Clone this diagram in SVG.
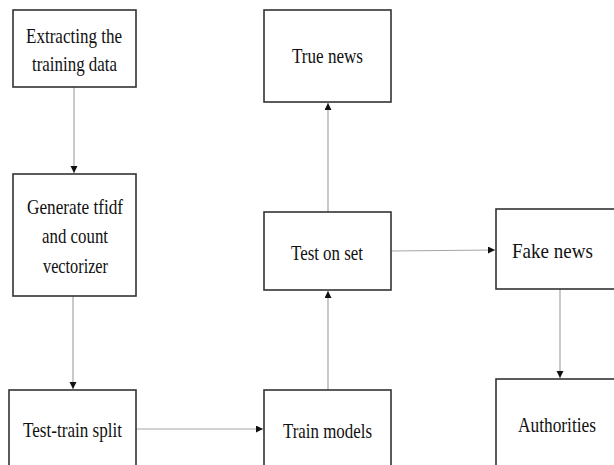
<svg xmlns="http://www.w3.org/2000/svg" width="614" height="465" viewBox="0 0 614 465">
<style>
.box{fill:#fff;stroke:#333;stroke-width:1.6}
.lbl{font-family:"Liberation Serif","Times New Roman",serif;font-size:22px;fill:#111;text-anchor:middle}
.conn{stroke:#a6a6a6;stroke-width:1.2;fill:none}
</style>
<defs>
<marker id="ah" markerUnits="userSpaceOnUse" markerWidth="8" markerHeight="8" refX="7" refY="3.5" orient="auto">
<path d="M0,0 L7,3.5 L0,7 Z" fill="#111"/>
</marker>
</defs>
<rect width="614" height="465" fill="#fff"/>
<g id="connectors">
<line class="conn" x1="74" y1="87" x2="74" y2="173" marker-end="url(#ah)"/>
<line class="conn" x1="73" y1="296" x2="73" y2="389" marker-end="url(#ah)"/>
<line class="conn" x1="136" y1="429" x2="263" y2="429" marker-end="url(#ah)"/>
<line class="conn" x1="328" y1="390" x2="328" y2="291" marker-end="url(#ah)"/>
<line class="conn" x1="328" y1="212" x2="328" y2="103" marker-end="url(#ah)"/>
<line class="conn" x1="391" y1="251" x2="495" y2="250" marker-end="url(#ah)"/>
<line class="conn" x1="560" y1="289" x2="560" y2="378" marker-end="url(#ah)"/>
</g>
<g id="extract">
<rect class="box" x="13" y="10" width="123" height="77"/>
<text class="lbl" x="74" y="43" textLength="96" lengthAdjust="spacingAndGlyphs">Extracting the</text>
<text class="lbl" x="74.5" y="71" textLength="85" lengthAdjust="spacingAndGlyphs">training data</text>
</g>
<g id="generate">
<rect class="box" x="13" y="174" width="123" height="122"/>
<text class="lbl" x="75" y="214" textLength="96" lengthAdjust="spacingAndGlyphs">Generate tfidf</text>
<text class="lbl" x="75" y="243" textLength="66" lengthAdjust="spacingAndGlyphs">and count</text>
<text class="lbl" x="75.5" y="273" textLength="65" lengthAdjust="spacingAndGlyphs">vectorizer</text>
</g>
<g id="split">
<rect class="box" x="9" y="390" width="127" height="90"/>
<text class="lbl" x="72.5" y="437" textLength="99" lengthAdjust="spacingAndGlyphs">Test-train split</text>
</g>
<g id="train">
<rect class="box" x="264" y="390" width="127" height="90"/>
<text class="lbl" x="327.5" y="438" textLength="89" lengthAdjust="spacingAndGlyphs">Train models</text>
</g>
<g id="test">
<rect class="box" x="264" y="212" width="127" height="78"/>
<text class="lbl" x="327" y="260" textLength="72" lengthAdjust="spacingAndGlyphs">Test on set</text>
</g>
<g id="true">
<rect class="box" x="264" y="10" width="127" height="92"/>
<text class="lbl" x="327.5" y="63" textLength="71" lengthAdjust="spacingAndGlyphs">True news</text>
</g>
<g id="fake">
<rect class="box" x="496" y="209" width="119" height="80"/>
<text class="lbl" x="552.5" y="258" textLength="81" lengthAdjust="spacingAndGlyphs">Fake news</text>
</g>
<g id="authorities">
<rect class="box" x="496" y="379" width="119" height="87"/>
<text class="lbl" x="557" y="432" textLength="78" lengthAdjust="spacingAndGlyphs">Authorities</text>
</g>
</svg>
